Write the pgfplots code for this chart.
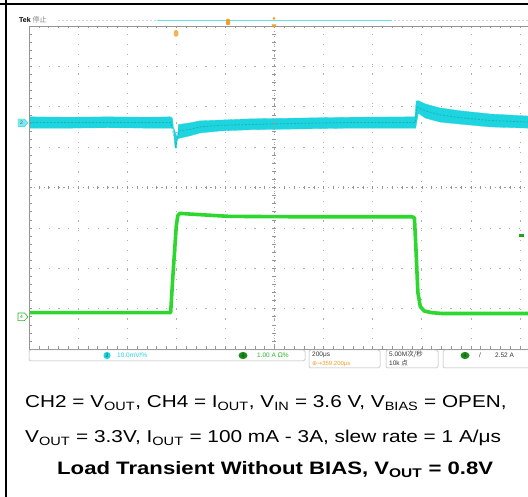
\documentclass[border=0pt]{standalone}
\usepackage{pgfplots}
\pgfplotsset{compat=1.18}
\usepackage{fontspec}
\setmainfont{Liberation Sans}
\newfontfamily\cjk{Noto Sans CJK SC}
\newfontfamily\symf{DejaVu Sans}
\definecolor{scopecyan}{RGB}{30,212,222}
\definecolor{scopegreen}{RGB}{45,215,45}
\definecolor{scopeorange}{RGB}{240,160,40}
\definecolor{gridgray}{RGB}{175,175,175}

\begin{document}
\begin{tikzpicture}
\path[use as bounding box] (0,0) rectangle (528pt,497pt);
\begin{axis}[
  at={(29pt,148pt)}, anchor=south west,
  width=499pt, height=323pt, scale only axis,
  xmin=0, xmax=10.163, ymin=-4, ymax=4,
  axis line style={draw=none},
  xtick={0,...,10}, ytick={-4,...,4},
  xticklabels={}, yticklabels={},
  major tick length=0pt,
  grid=major,
  major grid style={gridgray, line width=0.6pt, dash pattern=on 1.2pt off 8.6pt},
  clip=false,
]
% CH2 (V_OUT), noise band
\addplot[fill=scopecyan, draw=scopecyan, line width=0.3pt] coordinates {
  (0,1.75) (0.8,1.74) (1.6,1.75) (2.4,1.74) (2.89,1.75) (2.925,1.70)
  (2.975,0.98) (3.005,0.98) (3.045,1.56) (3.28,1.60) (3.48,1.65)
  (3.89,1.67) (4.50,1.70) (5.52,1.72) (6.54,1.74) (7.86,1.75)
  (7.885,2.14) (7.93,2.15) (8.07,2.07) (8.37,1.97) (8.78,1.90)
  (9.39,1.82) (10.163,1.77)
  (10.163,1.47) (9.39,1.50) (8.78,1.57) (8.37,1.62) (8.07,1.72)
  (7.93,1.84) (7.875,1.47) (6.54,1.47) (5.52,1.45) (4.50,1.43)
  (3.89,1.40) (3.48,1.35) (3.28,1.28) (3.06,1.22) (3.03,1.20)
  (2.95,1.47) (2.4,1.47) (1.6,1.48) (0.8,1.47) (0,1.47)
};
\addplot[scopecyan!55!black, opacity=0.35, line width=0.8pt, dash pattern=on 2pt off 1.5pt] coordinates {
  (0,1.61) (2.89,1.61) (2.95,1.25) (2.99,1.02) (3.05,1.40) (3.28,1.44)
  (3.48,1.50) (3.89,1.54) (4.50,1.56) (5.52,1.59) (6.54,1.61)
  (7.87,1.61) (7.90,1.99) (8.07,1.90) (8.37,1.80) (8.78,1.73)
  (9.39,1.66) (10.163,1.62)
};
% CH4 (I_OUT)
\addplot[scopegreen, line width=3.6pt, line join=round] coordinates {
  (0,-3.10) (2.885,-3.10) (2.93,-2.2) (3.00,-0.95) (3.03,-0.70)
  (3.07,-0.64) (3.30,-0.66) (4.07,-0.715) (5.5,-0.725) (7.80,-0.725)
  (7.85,-0.75) (7.88,-1.5) (7.92,-2.6) (7.97,-2.95) (8.05,-3.06)
  (8.20,-3.10) (8.40,-3.12) (10.163,-3.12)
};
\end{axis}

\begin{scope}[x=1pt,y=-1pt,shift={(0pt,497pt)}]
% outer frame
\draw[line width=2.6pt] (6,0) -- (6,497);
\draw[line width=2.6pt] (0,4) -- (528,4);
% graticule
\draw[gridgray!85!black, line width=0.6pt] (528,26) -- (29,26) -- (29,349) -- (528,349);
\draw[gridgray!90!black, line width=0.5pt, dash pattern=on 1.2pt off 3.7pt] (29,187.6) -- (528,187.6);
\draw[gridgray!90!black, line width=0.5pt, dash pattern=on 1.2pt off 3.7pt] (274,26) -- (274,349);
\foreach \i in {0,...,50} {
  \draw[gridgray!85!black, line width=0.5pt] ({29+\i*9.82},26) -- ++(0,2.5);
  \draw[gridgray!85!black, line width=0.5pt] ({29+\i*9.82},349) -- ++(0,-2.5);
  \draw[gridgray!85!black, line width=0.5pt] ({29+\i*9.82},185.8) -- ++(0,3.6);
}
\foreach \j in {0,...,40} {
  \draw[gridgray!85!black, line width=0.5pt] (29,{26+\j*8.075}) -- ++(2.5,0);
  \draw[gridgray!85!black, line width=0.5pt] (272.2,{26+\j*8.075}) -- ++(3.6,0);
}
% top readout
\node[anchor=west, inner sep=0, font=\fontsize{7}{8}\selectfont] at (19,20) {\textbf{Tek} \textcolor{gray}{\cjk 停止}};
\draw[gray!35, line width=0.6pt, dash pattern=on 2pt off 2pt] (58,20) -- (528,20);
\draw[scopecyan!70, line width=0.9pt] (157,20.5) -- (392,20.5);
\node[fill=scopeorange, inner sep=0.6pt, minimum width=4pt, minimum height=6pt, rounded corners=0.8pt] at (228,22) {};
\node[fill=scopeorange, inner sep=0, minimum size=3pt, circle] at (274,18.5) {};
\fill[scopeorange] (271.5,24.5) -- (276.5,24.5) -- (274,28) -- cycle;
\node[fill=scopeorange!80, inner sep=0, minimum width=4.5pt, minimum height=6.5pt, rounded corners=1.5pt] at (176,33.5) {};
% channel markers
\filldraw[fill=scopecyan!55, draw=scopecyan] (18,119) -- (24.5,119) -- (28,122.8) -- (24.5,126.6) -- (18,126.6) -- cycle;
\node[inner sep=0, font=\fontsize{5}{5}\selectfont, text=scopecyan!50!black] at (21.5,122.8) {2};
\filldraw[fill=white, draw=scopegreen!85!black, line width=0.6pt] (18,313) -- (24.5,313) -- (28,316.8) -- (24.5,320.6) -- (18,320.6) -- cycle;
\node[inner sep=0, font=\fontsize{5}{5}\selectfont, text=scopegreen!70!black] at (21.5,316.8) {4};
\fill[scopegreen!75!black] (519,234.5) rectangle (524,237.5);
% status bar
\draw[gray!60, line width=0.5pt, rounded corners=1.5pt] (29,350) rectangle (305,361);
\fill[scopecyan] (107,355.5) circle (3.6pt);
\node[inner sep=0, font=\fontsize{5}{5}\selectfont, text=scopecyan!40!black] at (107,355.5) {2};
\node[anchor=west, inner sep=0, font=\fontsize{6.5}{7}\selectfont, text=scopecyan] at (117,355.5) {10.0mV/\%};
\fill[scopegreen!65!black] (243,355.5) ellipse (4.5pt and 3.6pt);
\node[inner sep=0, font=\fontsize{5}{5}\selectfont, text=scopegreen!30!black] at (243,355.5) {4};
\node[anchor=west, inner sep=0, font=\fontsize{6.5}{7}\selectfont, text=scopegreen!85!black] at (257,355.5) {1.00 A {\symf Ω}\%};
\draw[gray!60, line width=0.5pt, rounded corners=1.5pt] (309,350) rectangle (380,368);
\node[anchor=west, inner sep=0, font=\fontsize{6.5}{7}\selectfont, text=black!80] at (312,354.5) {200μs};
\node[anchor=west, inner sep=0, font=\fontsize{6}{7}\selectfont, text=scopeorange] at (312,363.5) {{\symf ⊕→}359.200μs};
\draw[gray!60, line width=0.5pt, rounded corners=1.5pt] (386,350) rectangle (438,368);
\node[anchor=west, inner sep=0, font=\fontsize{6.5}{7}\selectfont, text=black!80] at (389,354.5) {5.00M{\cjk 次/秒}};
\node[anchor=west, inner sep=0, font=\fontsize{6.5}{7}\selectfont, text=black!80] at (389,363.5) {10k {\cjk 点}};
\draw[gray!60, line width=0.5pt, rounded corners=1.5pt] (443,350) rectangle (535,368);
\fill[scopegreen!65!black] (465,355.5) ellipse (4.5pt and 3.6pt);
\node[inner sep=0, font=\fontsize{5}{5}\selectfont, text=scopegreen!30!black] at (465,355.5) {4};
\node[inner sep=0, font=\fontsize{6.5}{7}\selectfont, text=black!80] at (480,355.5) {/};
\node[anchor=west, inner sep=0, font=\fontsize{6.5}{7}\selectfont, text=black!80] at (495,355.5) {2.52 A};
% caption
\node[anchor=base west, inner sep=0, font=\fontsize{17.2}{19}\selectfont] at (25,408)
  {\scalebox{1.205}[1]{CH2 = V\textsubscript{OUT}, CH4 = I\textsubscript{OUT}, V\textsubscript{IN} = 3.6 V, V\textsubscript{BIAS} = OPEN,}};
\node[anchor=base west, inner sep=0, font=\fontsize{17.2}{19}\selectfont] at (25,443)
  {\scalebox{1.21}[1]{V\textsubscript{OUT} = 3.3V, I\textsubscript{OUT} = 100 mA - 3A, slew rate = 1 A/μs}};
\node[anchor=base west, inner sep=0, font=\fontsize{18}{20}\selectfont\bfseries] at (57,475)
  {\scalebox{1.23}[1]{Load Transient Without BIAS, V\textsubscript{OUT} = 0.8V}};
\end{scope}
\end{tikzpicture}
\end{document}
